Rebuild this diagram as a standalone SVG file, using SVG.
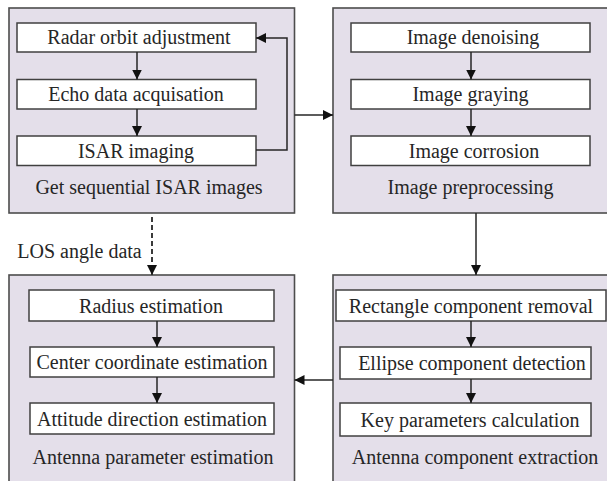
<svg xmlns="http://www.w3.org/2000/svg" width="607" height="481" viewBox="0 0 607 481">
<defs>
<style>
.panel{fill:#e4dfea;stroke:#4d4d4d;stroke-width:1.6}
.box{fill:#ffffff;stroke:#404040;stroke-width:1.5}
text{font-family:"Liberation Serif","Times New Roman",serif;font-size:20px;fill:#262626;text-anchor:middle}
.conn{fill:none;stroke:#262626;stroke-width:1.5}
.dash{fill:none;stroke:#262626;stroke-width:1.8;stroke-dasharray:5,3}
</style>
<marker id="ah" viewBox="0 0 10 10" refX="10" refY="5" markerWidth="10" markerHeight="10" markerUnits="userSpaceOnUse" orient="auto">
<path d="M0,0 L10,5 L0,10 z" fill="#111"/>
</marker>
</defs>
<rect width="607" height="481" fill="#ffffff"/>

<g id="panel-get-isar">
<rect class="panel" x="9" y="8" width="285.5" height="205"/>
<text x="149" y="194">Get sequential ISAR images</text>
</g>
<g id="radar-orbit">
<rect class="box" x="17" y="23" width="239" height="29"/>
<text x="139" y="44">Radar orbit adjustment</text>
</g>
<g id="echo-data">
<rect class="box" x="17" y="79.5" width="239" height="29.5"/>
<text x="136" y="101">Echo data acquisation</text>
</g>
<g id="isar-imaging">
<rect class="box" x="17" y="136" width="239" height="29.5"/>
<text x="136" y="157.5">ISAR imaging</text>
</g>

<g id="panel-preprocessing">
<rect class="panel" x="333" y="8" width="290" height="205"/>
<text x="470.5" y="194">Image preprocessing</text>
</g>
<g id="image-denoising">
<rect class="box" x="351" y="23" width="239" height="29"/>
<text x="473" y="44">Image denoising</text>
</g>
<g id="image-graying">
<rect class="box" x="351" y="79.5" width="239" height="29.5"/>
<text x="470.5" y="101">Image graying</text>
</g>
<g id="image-corrosion">
<rect class="box" x="351" y="136" width="239" height="29.5"/>
<text x="474" y="157.5">Image corrosion</text>
</g>

<g id="panel-antenna-extraction">
<rect class="panel" x="333" y="275" width="290" height="220"/>
<text x="475" y="464">Antenna component extraction</text>
</g>
<g id="rectangle-removal">
<rect class="box" x="336" y="290" width="270" height="31"/>
<text x="471" y="312.5">Rectangle component removal</text>
</g>
<g id="ellipse-detection">
<rect class="box" x="340" y="347" width="251" height="32"/>
<text x="472" y="370">Ellipse component detection</text>
</g>
<g id="key-parameters">
<rect class="box" x="340" y="403" width="251" height="33"/>
<text x="470" y="426.5">Key parameters calculation</text>
</g>

<g id="panel-antenna-estimation">
<rect class="panel" x="9" y="275" width="285.5" height="220"/>
<text x="153" y="464">Antenna parameter estimation</text>
</g>
<g id="radius-estimation">
<rect class="box" x="29" y="290" width="245" height="31"/>
<text x="151" y="312.5">Radius estimation</text>
</g>
<g id="center-estimation">
<rect class="box" x="30" y="347" width="244" height="30"/>
<text x="152" y="369">Center coordinate estimation</text>
</g>
<g id="attitude-estimation">
<rect class="box" x="30" y="403" width="244" height="31"/>
<text x="152" y="425.5">Attitude direction estimation</text>
</g>

<g id="los-label">
<text x="79.5" y="258">LOS angle data</text>
</g>

<g id="connectors">
<line class="conn" x1="137" y1="52" x2="137" y2="79.5" marker-end="url(#ah)"/>
<line class="conn" x1="137" y1="109" x2="137" y2="136" marker-end="url(#ah)"/>
<polyline class="conn" points="256,150 287,150 287,38 256,38" marker-end="url(#ah)"/>
<line class="conn" x1="294.5" y1="115" x2="333" y2="115" marker-end="url(#ah)"/>
<line class="conn" x1="471" y1="52" x2="471" y2="79.5" marker-end="url(#ah)"/>
<line class="conn" x1="471" y1="109" x2="471" y2="136" marker-end="url(#ah)"/>
<line class="conn" x1="476" y1="213" x2="476" y2="275" marker-end="url(#ah)"/>
<line class="conn" x1="471" y1="321" x2="471" y2="347" marker-end="url(#ah)"/>
<line class="conn" x1="471" y1="379" x2="471" y2="403" marker-end="url(#ah)"/>
<line class="conn" x1="333" y1="380" x2="294.5" y2="380" marker-end="url(#ah)"/>
<line class="conn" x1="157" y1="321" x2="157" y2="347" marker-end="url(#ah)"/>
<line class="conn" x1="157" y1="377" x2="157" y2="403" marker-end="url(#ah)"/>
<line class="dash" x1="152" y1="217" x2="152" y2="266"/>
<line class="conn" x1="152" y1="266" x2="152" y2="275" marker-end="url(#ah)"/>
</g>
</svg>
